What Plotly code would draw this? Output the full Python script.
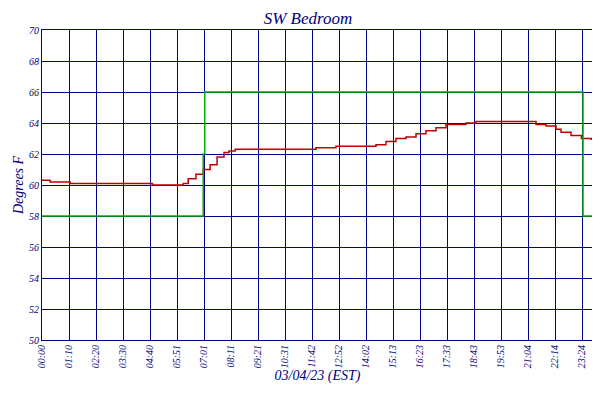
import plotly.graph_objects as go

# minutes since midnight
temp_min = [0, 21, 73, 270, 287, 367, 380, 400, 419, 437, 455, 473, 486, 502, 538, 598, 712, 764, 816, 868, 894, 920, 946, 972, 998, 1024, 1050, 1076, 1102, 1128, 1180, 1232, 1284, 1310, 1336, 1349, 1375, 1402, 1428]
temp_val = [60.3, 60.2, 60.1, 60.1, 60.0, 60.1, 60.4, 60.7, 61.0, 61.3, 61.8, 62.1, 62.2, 62.3, 62.3, 62.3, 62.4, 62.5, 62.5, 62.6, 62.8, 63.0, 63.1, 63.3, 63.5, 63.7, 63.9, 63.9, 64.0, 64.1, 64.1, 64.1, 63.9, 63.8, 63.6, 63.4, 63.2, 63.0, 62.9]

setback_min = [0, 419, 423, 1406, 1432]
setback_val = [58, 62, 66, 58, 58]

tick_labels = ["00:00", "01:10", "02:20", "03:30", "04:40", "05:51", "07:01", "08:11", "09:21", "10:31",
               "11:42", "12:52", "14:02", "15:13", "16:23", "17:33", "18:43", "19:53", "21:04", "22:14", "23:24"]
tick_pos = [i * 70.2 for i in range(len(tick_labels))]

navy = "#000080"
font = dict(family="Liberation Serif", color=navy)

fig = go.Figure()
fig.add_trace(go.Scatter(x=temp_min, y=temp_val, name="<i>SW Bedroom</i>", mode="lines",
                         line=dict(color="#c00000", width=1.5, shape="hv")))
fig.add_trace(go.Scatter(x=setback_min, y=setback_val, name="<i>Setback</i>", mode="lines",
                         line=dict(color="#00b000", width=1.5, shape="hv")))
# invisible trace to get right-hand tick labels
fig.add_trace(go.Scatter(x=[0], y=[50], yaxis="y2", showlegend=False, mode="markers",
                         marker=dict(opacity=0), hoverinfo="skip"))

fig.update_layout(
    width=600, height=400,
    margin=dict(l=34, r=15, t=22, b=68, autoexpand=False),
    paper_bgcolor="white", plot_bgcolor="white",
    title=dict(text="<i>SW Bedroom</i>", x=0.5, y=0.99, xanchor="center", yanchor="top",
               font=dict(family="Liberation Serif", size=17, color=navy)),
    font=font,
    xaxis=dict(range=[0, 1432], tickvals=tick_pos, ticktext=["<i>%s</i>" % t for t in tick_labels],
               tickangle=-90, tickfont=dict(size=10), showgrid=True, gridcolor=navy, gridwidth=1,
               showline=True, linecolor=navy, mirror=True, zeroline=False, ticks="", automargin=False,
               title=dict(text="<i>03/04/23 (EST)</i>", font=dict(size=14), standoff=2)),
    yaxis=dict(range=[50, 70], dtick=2, tickfont=dict(size=10), showgrid=True, gridcolor=navy,
               showline=True, linecolor=navy, mirror=True, zeroline=False, ticks="", automargin=False,
               tickprefix="<i>", ticksuffix="</i>",
               title=dict(text="<i>Degrees F</i>", font=dict(size=14), standoff=2)),
    yaxis2=dict(range=[50, 70], dtick=2, overlaying="y", side="right", showgrid=False, automargin=False,
                tickfont=dict(size=10), tickprefix="<i>", ticksuffix="</i>", zeroline=False),
    legend=dict(orientation="h", x=0.5, xanchor="center", y=-0.17, yanchor="top",
                font=dict(size=12), itemwidth=30),
)

fig.write_html("out.html")
